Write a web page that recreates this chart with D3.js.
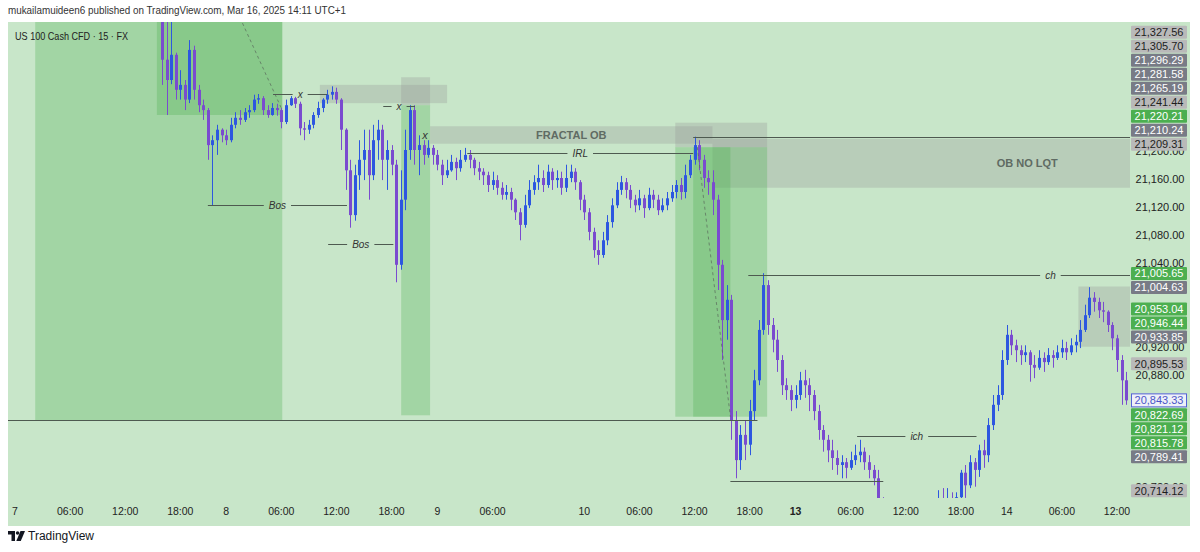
<!DOCTYPE html>
<html>
<head>
<meta charset="utf-8">
<script src="https://cdn.jsdelivr.net/npm/d3@7"></script>
<style>
body { margin: 0; background: #fff; }
svg { display: block; font-family: "Liberation Sans", "Open Sans", sans-serif; }
.lvl { font-size: 10px; font-style: italic; fill: #333; }
.ztext { font-size: 11px; font-weight: bold; fill: #5f6b63; }
</style>
</head>
<body>
<svg id="chart" width="1200" height="552"></svg>
<script>
// 30 min candles, first one sits at bar index firstBar (bar 0 = Mar 7 00:00)
var firstBar = 32;
// [open, high, low, close]
var candles = [
  [21395,21401,21294,21330],[21330,21390,21251,21301],[21301,21394,21295,21337],[21337,21340,21273,21287],
  [21287,21315,21273,21294],[21294,21301,21258,21273],[21273,21358,21268,21344],[21344,21350,21273,21287],
  [21287,21294,21255,21265],[21265,21273,21244,21258],[21258,21261,21187,21208],[21208,21222,21122,21215],
  [21215,21237,21194,21230],[21230,21232,21212,21222],[21222,21230,21208,21215],[21215,21247,21212,21237],
  [21237,21255,21232,21247],[21247,21258,21237,21244],[21244,21261,21241,21255],[21255,21265,21247,21258],
  [21258,21280,21255,21273],[21273,21281,21267,21275],[21275,21278,21251,21258],[21258,21265,21247,21251],
  [21251,21268,21250,21261],[21261,21267,21250,21258],[21258,21261,21232,21241],[21241,21273,21238,21265],
  [21265,21278,21264,21275],[21275,21277,21261,21267],[21267,21270,21222,21232],[21232,21241,21215,21230],
  [21230,21244,21224,21237],[21237,21255,21232,21251],[21251,21270,21247,21261],[21261,21275,21255,21273],
  [21273,21287,21267,21280],[21280,21292,21273,21284],[21284,21290,21267,21273],[21273,21275,21201,21230],
  [21230,21232,21144,21172],[21172,21187,21090,21108],[21108,21180,21100,21165],[21165,21215,21144,21187],
  [21187,21230,21158,21201],[21201,21230,21130,21165],[21165,21237,21158,21215],[21215,21244,21187,21230],
  [21230,21237,21158,21187],[21187,21215,21144,21201],[21201,21208,21165,21180],[21180,21187,21012,21037],
  [21037,21172,21030,21130],[21130,21230,21115,21201],[21201,21265,21187,21258],[21258,21265,21180,21201],
  [21201,21222,21165,21208],[21208,21215,21180,21194],[21194,21215,21190,21204],[21204,21208,21180,21194],
  [21194,21201,21172,21180],[21180,21187,21151,21165],[21165,21187,21161,21172],[21172,21194,21170,21184],
  [21184,21190,21158,21175],[21175,21201,21170,21187],[21187,21204,21184,21194],[21194,21201,21175,21187],
  [21187,21190,21165,21175],[21175,21184,21158,21170],[21170,21175,21151,21165],[21165,21170,21141,21151],
  [21151,21170,21144,21158],[21158,21165,21137,21147],[21147,21155,21130,21137],[21137,21151,21130,21141],
  [21141,21147,21115,21130],[21130,21132,21101,21112],[21112,21118,21072,21094],[21094,21137,21090,21122],
  [21122,21158,21118,21144],[21144,21165,21137,21155],[21155,21180,21144,21161],[21161,21172,21141,21151],
  [21151,21180,21147,21170],[21170,21175,21144,21158],[21158,21172,21147,21161],[21161,21170,21137,21147],
  [21147,21180,21141,21161],[21161,21180,21155,21170],[21170,21175,21144,21155],[21155,21158,21115,21130],
  [21130,21137,21101,21112],[21112,21118,21072,21084],[21084,21090,21047,21058],[21058,21072,21037,21051],
  [21051,21084,21047,21072],[21072,21108,21065,21098],[21098,21132,21090,21122],[21122,21155,21118,21144],
  [21144,21164,21137,21155],[21155,21161,21132,21144],[21144,21151,21118,21130],[21130,21137,21112,21122],
  [21122,21144,21115,21132],[21132,21137,21104,21118],[21118,21147,21115,21137],[21137,21144,21118,21130],
  [21130,21137,21108,21115],[21115,21132,21112,21122],[21122,21141,21115,21132],[21132,21151,21127,21141],
  [21141,21158,21132,21151],[21151,21161,21130,21141],[21141,21180,21132,21165],[21165,21194,21161,21187],
  [21187,21220,21180,21208],[21208,21215,21172,21187],[21187,21194,21147,21161],[21161,21172,21137,21155],
  [21155,21172,21108,21130],[21130,21137,21001,21037],[21037,21044,20901,20958],[20958,21008,20930,20987],
  [20987,20994,20787,20815],[20815,20828,20732,20758],[20758,20808,20744,20794],[20794,20815,20758,20780],
  [20780,20844,20765,20828],[20828,20887,20815,20872],[20872,20958,20865,20944],[20944,21025,20937,21008],
  [21008,21015,20937,20951],[20951,20961,20912,20930],[20930,20944,20884,20901],[20901,20908,20851,20865],
  [20865,20875,20844,20858],[20858,20865,20828,20844],[20844,20865,20832,20851],[20851,20884,20844,20872],
  [20872,20887,20847,20865],[20865,20875,20828,20851],[20851,20858,20815,20828],[20828,20837,20787,20801],
  [20801,20808,20770,20787],[20787,20794,20755,20772],[20772,20787,20744,20761],[20761,20772,20737,20751],
  [20751,20765,20732,20755],[20755,20761,20732,20747],[20747,20770,20744,20758],[20758,20780,20751,20765],
  [20765,20787,20755,20770],[20770,20776,20744,20755],[20755,20765,20732,20744],[20744,20751,20722,20732],
  [20732,20744,20694,20701],[20701,20705,20670,20685],[20685,20692,20665,20680],[20680,20688,20660,20672],
  [20672,20690,20665,20678],[20678,20684,20655,20670],[20670,20676,20650,20662],[20662,20680,20655,20668],
  [20668,20703,20660,20675],[20675,20685,20660,20670],[20670,20690,20665,20680],[20680,20695,20672,20685],
  [20685,20700,20678,20690],[20690,20715,20685,20698],[20698,20718,20680,20692],[20692,20718,20680,20700],
  [20700,20712,20680,20695],[20695,20712,20690,20705],[20705,20744,20701,20740],[20740,20751,20704,20722],
  [20722,20765,20718,20755],[20755,20761,20720,20744],[20744,20780,20734,20772],[20772,20787,20747,20765],
  [20765,20818,20755,20808],[20808,20851,20801,20837],[20837,20865,20828,20851],[20851,20915,20844,20901],
  [20901,20951,20894,20937],[20937,20944,20908,20922],[20922,20930,20898,20915],[20915,20922,20894,20908],
  [20908,20922,20898,20912],[20912,20915,20870,20894],[20894,20908,20875,20890],[20890,20915,20887,20904],
  [20904,20912,20884,20898],[20898,20918,20894,20908],[20908,20915,20890,20904],[20904,20922,20901,20912],
  [20912,20930,20904,20918],[20918,20927,20901,20912],[20912,20932,20908,20922],[20922,20937,20912,20927],
  [20927,20958,20918,20944],[20944,20980,20941,20965],[20965,21005,20961,20990],[20990,20998,20970,20984],
  [20984,20990,20961,20972],[20972,20984,20955,20970],[20970,20972,20941,20951],[20951,20955,20915,20932],
  [20932,20937,20884,20901],[20901,20908,20837,20872],[20872,20884,20837,20843.33]
];

var priceTicks = d3.range(20720, 21400, 40);

// [bar index, label]
var timeTicks = [
  [0, "7"], [12, "06:00"], [24, "12:00"], [36, "18:00"], [46, "8"], [58, "06:00"], [70, "12:00"],
  [82, "18:00"], [92, "9"], [104, "06:00"], [124, "10"], [136, "06:00"], [148, "12:00"], [160, "18:00"],
  [170, "13"], [182, "06:00"], [194, "12:00"], [206, "18:00"], [216, "14"], [228, "06:00"], [240, "12:00"]
];
var boldTicks = ["13"];

var lastPrice = 20843.33;
var priceLabels = [
  {price: 21327.56, kind: "light"}, {price: 21305.70, kind: "light"}, {price: 21296.29, kind: "dark"},
  {price: 21281.58, kind: "dark"}, {price: 21265.19, kind: "dark"}, {price: 21241.44, kind: "light"},
  {price: 21220.21, kind: "green"}, {price: 21210.24, kind: "dark"}, {price: 21209.31, kind: "light"},
  {price: 21005.65, kind: "green"}, {price: 21004.63, kind: "dark"}, {price: 20953.04, kind: "green"},
  {price: 20946.44, kind: "green"}, {price: 20933.85, kind: "dark"}, {price: 20895.53, kind: "light"},
  {price: 20822.69, kind: "green"}, {price: 20821.12, kind: "green"}, {price: 20815.78, kind: "green"},
  {price: 20789.41, kind: "dark"}, {price: 20714.12, kind: "light"}
];

// drawn boxes, in bars and prices
var zones = [
  {b0: 4.4, b1: 58.2, p0: 20815, p1: 21400, kind: "green"},
  {b0: 30.9, b1: 58.2, p0: 21251, p1: 21400, kind: "green"},
  {b0: 66.4, b1: 94.1, p0: 21268, p1: 21294, kind: "grey"},
  {b0: 84.1, b1: 90.4, p0: 21265, p1: 21305, kind: "grey"},
  {b0: 84.1, b1: 90.4, p0: 20822, p1: 21265, kind: "green"},
  {b0: 90.4, b1: 151.9, p0: 21210, p1: 21235, kind: "grey", text: "FRACTAL OB"},
  {b0: 143.8, b1: 163.8, p0: 21205, p1: 21240, kind: "grey"},
  {b0: 151.9, b1: 289, p0: 21147, p1: 21217, kind: "grey", text: "OB NO LQT"},
  {b0: 143.8, b1: 155.8, p0: 20820, p1: 21205, kind: "green"},
  {b0: 147.7, b1: 163.8, p0: 20820, p1: 21205, kind: "green"},
  {b0: 231.6, b1: 243.5, p0: 20920, p1: 21006, kind: "grey"}
];

// horizontal lines
var levels = [
  {b0: -3, b1: 161.7, p: 20815},
  {b0: 147.7, b1: 245, p: 21220},
  {b0: 98.5, b1: 147.7, p: 21197, text: "IRL"},
  {b0: 42, b1: 72.3, p: 21122, text: "Bos"},
  {b0: 68.2, b1: 82.4, p: 21067, text: "Bos"},
  {b0: 56.2, b1: 68, p: 21281, text: "x"},
  {b0: 80.2, b1: 87.1, p: 21264, text: "x"},
  {b0: 159.7, b1: 291.3, p: 21022, text: "ch"},
  {b0: 183.4, b1: 209.4, p: 20793, text: "ich"},
  {b0: 155.8, b1: 189.1, p: 20728}
];
var notes = [{b: 89.3, p: 21222, text: "x"}];
var dashes = [
  {b0: 49, p0: 21390, b1: 58.2, p1: 21258},
  {b0: 148.6, p0: 21205, b1: 155.8, p1: 20820}
];

// ---- layout
var pane = {left: 8, right: 1130, top: 22, bottom: 498};
var axisRight = 1190, axisBottom = 526;
var bg = "#c8e6c9";
var upColor = "#2d57e0", downColor = "#7a4bcf";
var zoneFill = {green: "rgba(76,175,80,0.3)", grey: "rgba(150,150,150,0.3)"};
var labelStyle = {
  light: {fill: "#b9b9b9", text: "#1e1e1e"},
  dark: {fill: "#787b86", text: "#ffffff"},
  green: {fill: "#4caf50", text: "#ffffff"}
};

var svg = d3.select("#chart");
var x = d3.scaleLinear().domain([0, 240]).range([15, 1117]);
var y = d3.scaleLinear().domain([20720, 21160]).range([486.7, 178.7]);

svg.append("defs").append("clipPath").attr("id", "pane")
  .append("rect").attr("x", pane.left).attr("y", pane.top)
  .attr("width", pane.right - pane.left).attr("height", pane.bottom - pane.top);

svg.append("rect").attr("x", pane.left).attr("y", pane.top)
  .attr("width", axisRight - pane.left).attr("height", axisBottom - pane.top).attr("fill", bg);

var plot = svg.append("g").attr("clip-path", "url(#pane)");

// zones
plot.selectAll("rect.zone").data(zones).join("rect").attr("class", "zone")
  .attr("x", d => x(d.b0)).attr("width", d => x(d.b1) - x(d.b0))
  .attr("y", d => y(d.p1)).attr("height", d => y(d.p0) - y(d.p1))
  .attr("fill", d => zoneFill[d.kind]);

// candles
var cw = 3;
var cg = plot.selectAll("g.candle").data(candles).join("g").attr("class", "candle")
  .attr("fill", d => d[3] >= d[0] ? upColor : downColor)
  .attr("stroke", d => d[3] >= d[0] ? upColor : downColor);
cg.append("line")
  .attr("x1", (d, i) => Math.round(x(firstBar + i)) + 0.5)
  .attr("x2", (d, i) => Math.round(x(firstBar + i)) + 0.5)
  .attr("y1", d => y(d[1])).attr("y2", d => y(d[2]))
  .attr("stroke-width", 1);
cg.append("rect")
  .attr("x", (d, i) => Math.round(x(firstBar + i)) + 0.5 - cw / 2)
  .attr("width", cw)
  .attr("y", d => y(Math.max(d[0], d[3])))
  .attr("height", d => Math.max(1, Math.abs(y(d[0]) - y(d[3]))))
  .attr("stroke", "none");

// dashed diagonals
plot.selectAll("line.dash").data(dashes).join("line").attr("class", "dash")
  .attr("x1", d => x(d.b0)).attr("y1", d => y(d.p0))
  .attr("x2", d => x(d.b1)).attr("y2", d => y(d.p1))
  .attr("stroke", "#5a6a5c").attr("stroke-dasharray", "3,3").attr("stroke-width", 1).attr("opacity", 0.7);

// zone texts
plot.selectAll("text.ztext").data(zones.filter(d => d.text)).join("text").attr("class", "ztext")
  .attr("x", d => (x(d.b0) + x(d.b1)) / 2).attr("y", d => (y(d.p0) + y(d.p1)) / 2)
  .attr("dy", "0.35em").attr("text-anchor", "middle").text(d => d.text);

// level lines, broken around their label
levels.forEach(function(d) {
  var x0 = x(d.b0), x1 = x(d.b1), yy = Math.round(y(d.p)) + 0.5;
  var segs = [[x0, x1]];
  if (d.text) {
    var xm = (x0 + x1) / 2;
    var t = plot.append("text").attr("class", "lvl").attr("x", xm).attr("y", yy)
      .attr("dy", "0.35em").attr("text-anchor", "middle").text(d.text);
    var half = t.node().getComputedTextLength() / 2 + 5;
    segs = [[x0, xm - half], [xm + half, x1]];
  }
  segs.forEach(function(s) {
    plot.append("line").attr("x1", s[0]).attr("x2", s[1]).attr("y1", yy).attr("y2", yy)
      .attr("stroke", "#4e5a50").attr("stroke-width", 1);
  });
});
plot.selectAll("text.note").data(notes).join("text").attr("class", "lvl note")
  .attr("x", d => x(d.b)).attr("y", d => y(d.p)).attr("dy", "0.35em")
  .attr("text-anchor", "middle").style("font-size", "11px").text(d => d.text);

// price labels, stacked away from the last price
var above = priceLabels.filter(d => d.price > lastPrice).sort((a, b) => a.price - b.price);
var prev = y(lastPrice);
above.forEach(d => { d.y = Math.min(y(d.price), prev - 14); prev = d.y; });
var below = priceLabels.filter(d => d.price < lastPrice).sort((a, b) => b.price - a.price);
prev = y(lastPrice);
below.forEach(d => { d.y = Math.max(y(d.price), prev + 14); prev = d.y; });

// price axis ticks: hide the ones sitting right under a label, or boxed in from both sides
var boxYs = priceLabels.map(d => d.y).concat([y(lastPrice)]);
function tickHidden(t) {
  var ty = y(t);
  var near = boxYs.some(b => Math.abs(b - ty) < 4);
  var up = boxYs.some(b => b < ty && ty - b < 14);
  var down = boxYs.some(b => b > ty && b - ty < 14);
  return near || (up && down);
}
var fmt = d3.format(",.2f");
svg.append("g").selectAll("text")
  .data(priceTicks.filter(t => !tickHidden(t)))
  .join("text")
  .attr("x", 1160).attr("y", d => y(d)).attr("dy", "0.35em").attr("text-anchor", "middle")
  .attr("font-size", 11).attr("fill", "#222").text(d => fmt(d));

var lg = svg.append("g").selectAll("g").data(priceLabels).join("g")
  .attr("transform", d => "translate(0," + d.y + ")");
lg.append("rect").attr("x", 1131).attr("y", -6.5).attr("width", 56).attr("height", 13).attr("rx", 1)
  .attr("fill", d => labelStyle[d.kind].fill);
lg.append("text").attr("x", 1159).attr("dy", "0.35em").attr("text-anchor", "middle")
  .attr("font-size", 11).attr("fill", d => labelStyle[d.kind].text).text(d => fmt(d.price));

var lp = svg.append("g").attr("transform", "translate(0," + y(lastPrice) + ")");
lp.append("rect").attr("x", 1131.5).attr("y", -6.5).attr("width", 55).attr("height", 13)
  .attr("fill", "#eef0f8").attr("stroke", "#5562d6").attr("stroke-width", 1);
lp.append("text").attr("x", 1159).attr("dy", "0.35em").attr("text-anchor", "middle")
  .attr("font-size", 11).attr("fill", "#4b55c8").text(fmt(lastPrice));

// time axis
svg.append("g").selectAll("text").data(timeTicks).join("text")
  .attr("x", d => x(d[0])).attr("y", 511).attr("dy", "0.35em").attr("text-anchor", "middle")
  .attr("font-size", 10.5).attr("fill", "#222")
  .attr("font-weight", d => boldTicks.indexOf(d[1]) >= 0 ? "bold" : "normal")
  .text(d => d[1]);

// header texts
svg.append("text").attr("x", 8).attr("y", 14).attr("font-size", 11.5).attr("fill", "#333")
  .attr("textLength", 338).attr("lengthAdjust", "spacingAndGlyphs")
  .text("mukailamuideen6 published on TradingView.com, Mar 16, 2025 14:11 UTC+1");
svg.append("text").attr("x", 15).attr("y", 40).attr("font-size", 11.5).attr("fill", "#222")
  .attr("textLength", 113).attr("lengthAdjust", "spacingAndGlyphs")
  .text("US 100 Cash CFD \u00b7 15 \u00b7 FX");

// TradingView mark
var logo = svg.append("g").attr("fill", "#131722");
logo.append("path").attr("d", "M8,531 h7 v10 h-3.5 v-6.5 h-3.5 z");
logo.append("circle").attr("cx", 17.6).attr("cy", 533).attr("r", 1.8);
logo.append("path").attr("d", "M20.5,531 h4.5 l-4.2,10 h-4.5 z");
svg.append("text").attr("x", 28).attr("y", 540).attr("font-size", 12).attr("fill", "#131722")
  .text("TradingView");
</script>
</body>
</html>
